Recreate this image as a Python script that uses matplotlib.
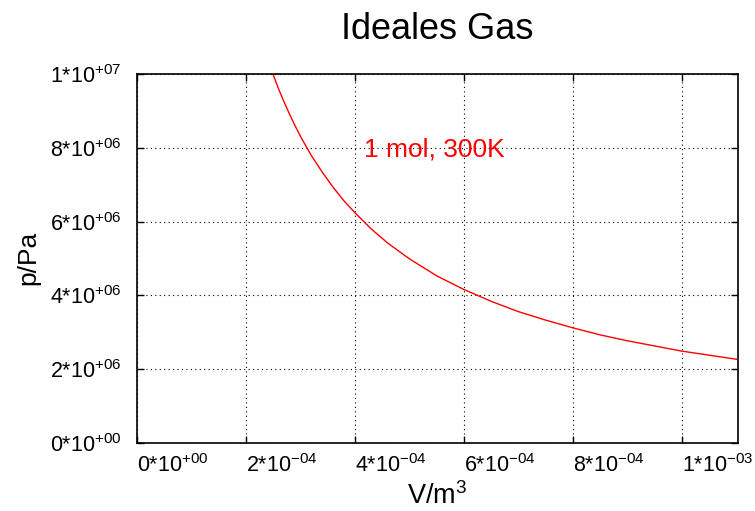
import matplotlib
matplotlib.use("Agg")
import matplotlib.pyplot as plt

plt.rcParams['font.family'] = ['Liberation Sans', 'DejaVu Sans']
plt.rcParams['mathtext.fontset'] = 'custom'
plt.rcParams['mathtext.rm'] = 'Liberation Sans'
plt.rcParams['mathtext.it'] = 'Liberation Sans'
plt.rcParams['mathtext.bf'] = 'Liberation Sans'

# Data (V in m^3, p in Pa)
volume = [2.5e-4, 2.6e-4, 2.7e-4, 2.8e-4, 2.9e-4, 3.0e-4, 3.2e-4, 3.4e-4, 3.6e-4,
          3.8e-4, 4.0e-4, 4.3e-4, 4.6e-4, 5.0e-4, 5.5e-4, 6.0e-4, 6.5e-4, 7.0e-4,
          7.5e-4, 8.0e-4, 8.5e-4, 9.0e-4, 9.5e-4, 10.0e-4, 10.5e-4, 11.0e-4]
pressure = [9.98e6, 9.59e6, 9.24e6, 8.91e6, 8.60e6, 8.31e6, 7.79e6, 7.34e6, 6.93e6,
            6.56e6, 6.24e6, 5.80e6, 5.42e6, 4.99e6, 4.53e6, 4.16e6, 3.84e6, 3.56e6,
            3.33e6, 3.12e6, 2.93e6, 2.77e6, 2.63e6, 2.49e6, 2.38e6, 2.27e6]

xticks = [0, 2e-4, 4e-4, 6e-4, 8e-4, 1e-3]
xticklabels = [r'0*10$^{+00}$', r'2*10$^{-04}$', r'4*10$^{-04}$', r'6*10$^{-04}$',
               r'8*10$^{-04}$', r'1*10$^{-03}$']
yticks = [0, 2e6, 4e6, 6e6, 8e6, 1e7]
yticklabels = [r'0*10$^{+00}$', r'2*10$^{+06}$', r'4*10$^{+06}$', r'6*10$^{+06}$',
               r'8*10$^{+06}$', r'1*10$^{+07}$']

title = 'Ideales Gas'
xlabel = r'V/m$^{3}$'
ylabel = 'p/Pa'
annotation = '1 mol, 300K'

fig = plt.figure(figsize=(7.55, 5.11), dpi=100)
ax = fig.add_axes([137/755, 1 - 443/511, (738-137)/755, (443-74)/511])

ax.plot(volume, pressure, color='#ff0000', lw=1.0)
ax.set_xlim(0, 1.103e-3)
ax.set_ylim(0, 1e7)

ax.set_xticks(xticks)
ax.set_xticklabels(xticklabels, ha='left')
ax.set_yticks(yticks)
ax.set_yticklabels(yticklabels)
ax.tick_params(direction='in', length=5, width=1, top=True, right=True,
               labelsize=15.5, colors='black')
ax.tick_params(axis='x', pad=8)
ax.tick_params(axis='y', pad=11)
ax.grid(True, color='black', linestyle=(0, (1, 3)), linewidth=0.8)
for s in ax.spines.values():
    s.set_linewidth(1.2)

ax.text(5.45e-4, 7.95e6, annotation, color='#ff0000', fontsize=19,
        ha='center', va='center')

fig.text(437/755, 1 - 39/511, title, fontsize=26, ha='center', va='baseline')
fig.text(437/755, 1 - 504/511, xlabel, fontsize=19.5, ha='center', va='baseline')
fig.text(28/755, 1 - 258/511, ylabel, fontsize=19, ha='center', va='center',
         rotation=90)

fig.savefig('out.png', dpi=100)
